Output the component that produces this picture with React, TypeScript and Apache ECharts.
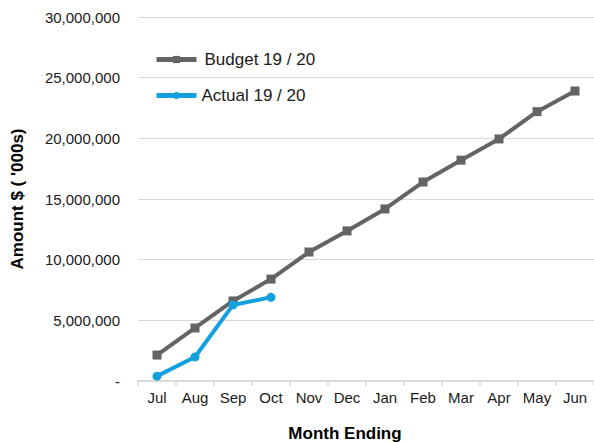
import React, { useEffect, useRef } from "react";
import * as echarts from "echarts";

const months = ["Jul", "Aug", "Sep", "Oct", "Nov", "Dec", "Jan", "Feb", "Mar", "Apr", "May", "Jun"];
const budget = [2140000, 4370000, 6600000, 8400000, 10630000, 12370000, 14180000, 16400000, 18200000, 19950000, 22200000, 23900000];
const actual = [400000, 1980000, 6270000, 6900000];
const budgetName = "Budget 19 / 20";
const actualName = "Actual 19 / 20";
const yTitle = "Amount $ ( '000s)";
const xTitle = "Month Ending";

const FONT = "'Liberation Sans', Arial, sans-serif";

export default function App() {
  const ref = useRef<HTMLDivElement>(null);
  useEffect(() => {
    document.body.style.margin = "0";
    if (!ref.current) return;
    const chart = echarts.init(ref.current, null, { renderer: "svg" });
    const legendBase = {
      left: 154,
      padding: 0,
      itemWidth: 40,
      itemHeight: 9,
      lineStyle: { width: 5 },
      textStyle: { fontFamily: FONT, fontSize: 17, color: "#1a1a1a" },
    };
    chart.setOption({
      animation: false,
      textStyle: { fontFamily: FONT },
      grid: { left: 138, top: 17, width: 459.6, height: 364 },
      legend: [
        {
          ...legendBase,
          data: [{ name: budgetName, textStyle: { padding: [0, 0, 0, 3] } }],
          top: 51,
        },
        {
          ...legendBase,
          data: [{ name: actualName }],
          top: 87,
        },
      ],
      xAxis: {
        type: "category",
        data: months,
        boundaryGap: true,
        axisLine: { lineStyle: { color: "#d9d9d9", width: 2 } },
        axisTick: { show: true, length: 5, lineStyle: { color: "#d9d9d9", width: 1.5 } },
        axisLabel: { color: "#1a1a1a", fontSize: 15, fontFamily: FONT, margin: 9 },
        splitLine: { show: false },
      },
      yAxis: {
        type: "value",
        min: 0,
        max: 30000000,
        interval: 5000000,
        axisLine: { show: false },
        axisTick: { show: false },
        axisLabel: {
          color: "#1a1a1a",
          fontSize: 15,
          fontFamily: FONT,
          margin: 18,
          formatter: (v: number) => (v === 0 ? "-" : v.toLocaleString("en-US")),
        },
        splitLine: { lineStyle: { color: "#d9d9d9", width: 1 } },
      },
      series: [
        {
          name: budgetName,
          type: "line",
          data: budget,
          symbol: "rect",
          symbolSize: 9,
          lineStyle: { color: "#636466", width: 4 },
          itemStyle: { color: "#636466" },
          z: 2,
        },
        {
          name: actualName,
          type: "line",
          data: actual,
          symbol: "circle",
          symbolSize: 9,
          lineStyle: { color: "#14a0dc", width: 4 },
          itemStyle: { color: "#14a0dc" },
          z: 3,
        },
      ],
      graphic: [
        {
          type: "text",
          x: 345,
          y: 433,
          style: {
            text: xTitle,
            font: `bold 17px ${FONT}`,
            fill: "#000",
            align: "center",
            verticalAlign: "middle",
          },
        },
        {
          type: "text",
          x: 17,
          y: 199,
          rotation: Math.PI / 2,
          style: {
            text: yTitle,
            font: `bold 17px ${FONT}`,
            fill: "#000",
            align: "center",
            verticalAlign: "middle",
          },
        },
      ],
    });
    return () => chart.dispose();
  }, []);
  return <div ref={ref} style={{ width: 594, height: 443 }} />;
}
